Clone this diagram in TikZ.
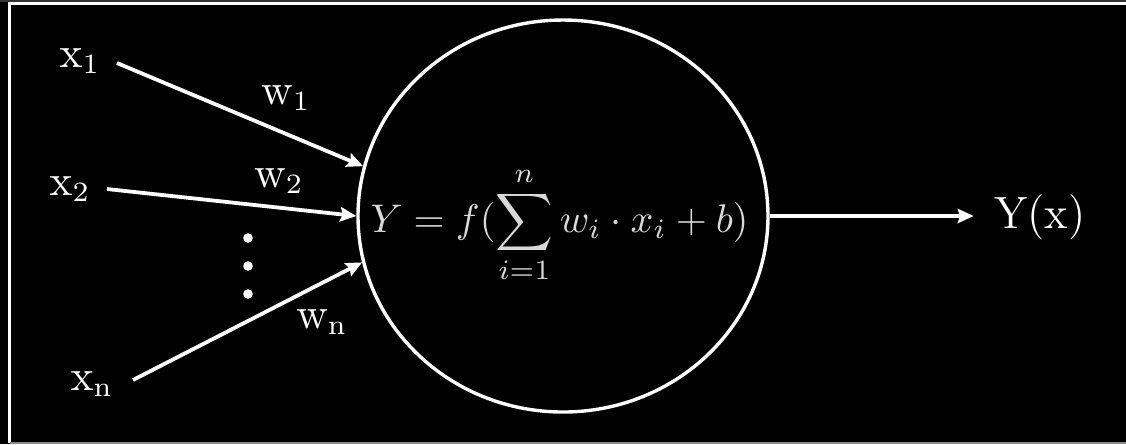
\documentclass[tikz,border=0pt]{standalone}
\usetikzlibrary{arrows.meta,shapes.geometric}
\begin{document}
\begin{tikzpicture}[x=0.25pt,y=-0.25pt,
  lab/.style={text=white,inner sep=0pt,font=\fontsize{10.6}{12}\selectfont,anchor=base},
  arr/.style={draw=white,line width=0.95pt,-{Stealth[length=4pt,width=3.6pt,inset=0.6pt]}},
  neuronstyle/.style={draw=white,line width=0.85pt,ellipse,minimum width=102.5pt,minimum height=98pt,inner sep=0pt},
  dotnode/.style={circle,fill=white,inner sep=0pt,minimum size=2.4pt}]
\useasboundingbox (0,0) rectangle (1126,444);
\fill[black] (0,0) rectangle (1126,444);
\fill[black!80] (0,0) rectangle (1126,1.8);
\draw[white,line width=0.75pt] (9.5,443) -- (9.5,3.5) -- (1126,3.5);
\draw[black!45,line width=0.5pt] (9.5,442.5) -- (1126,442.5);
% neuron
\node[neuronstyle] (neuron) at (563,216) {};
\node[text=white!85!black,inner sep=0pt,anchor=base,font=\fontsize{9.7}{12}\selectfont] (formula) at (559.5,232)
  {$\displaystyle Y = f(\sum_{i=1}^{n} w_i \cdot x_i + b)$};
% inputs
\node[lab] (x1) at (80,67) {$\mathrm{x}_{\mathrm{1}}$};
\node[lab] (x2) at (70,195) {$\mathrm{x}_{\mathrm{2}}$};
\node[lab] (xn) at (92,390) {$\mathrm{x}_{\mathrm{n}}$};
\node[lab] (w1) at (286,104) {$\mathrm{w}_{\mathrm{1}}$};
\node[lab] (w2) at (279,187) {$\mathrm{w}_{\mathrm{2}}$};
\node[lab] (wn) at (322,328) {$\mathrm{w}_{\mathrm{n}}$};
\coordinate (s1) at (117,63);
\coordinate (s2) at (107,189);
\coordinate (sn) at (133,380);
\draw[arr] (s1) -- (neuron.166);
\draw[arr] (s2) -- (neuron.180);
\draw[arr] (sn) -- (neuron.193.5);
% dots
\node[dotnode] (d1) at (248,238) {};
\node[dotnode] (d2) at (248,266) {};
\node[dotnode] (d3) at (248,294) {};
% output
\node[text=white,inner sep=5pt,font=\fontsize{11.3}{13}\selectfont] (yout) at (1040,217) {Y(x)};
\draw[arr] (neuron.east) -- (neuron.east -| yout.west);
\end{tikzpicture}
\end{document}
